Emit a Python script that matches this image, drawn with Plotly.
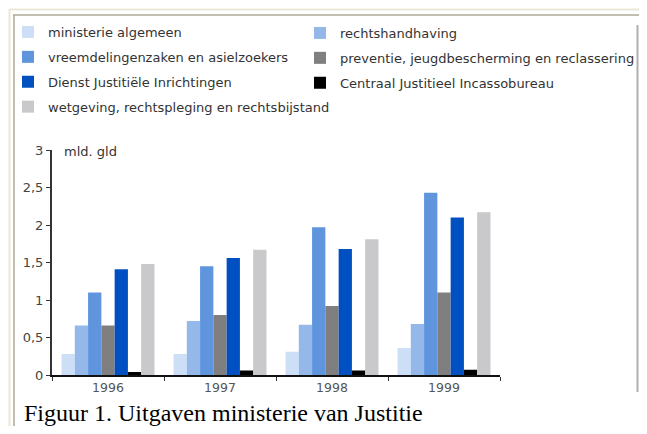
import plotly.graph_objects as go

years = ["1996", "1997", "1998", "1999"]
series_names = [
    "ministerie algemeen",
    "rechtshandhaving",
    "vreemdelingenzaken en asielzoekers",
    "preventie, jeugdbescherming en reclassering",
    "Dienst Justitiële Inrichtingen",
    "Centraal Justitieel Incassobureau",
    "wetgeving, rechtspleging en rechtsbijstand",
]
ministerie_algemeen = [0.28, 0.28, 0.31, 0.36]
rechtshandhaving = [0.66, 0.72, 0.67, 0.68]
vreemdelingenzaken = [1.10, 1.45, 1.97, 2.43]
preventie = [0.66, 0.80, 0.92, 1.10]
dji = [1.41, 1.56, 1.68, 2.10]
cjib = [0.04, 0.06, 0.06, 0.07]
wetgeving = [1.48, 1.67, 1.81, 2.17]
series_values = [ministerie_algemeen, rechtshandhaving, vreemdelingenzaken,
                 preventie, dji, cjib, wetgeving]
colors = ["#cddff7", "#94b8ea", "#5e95dc", "#7f7f7f", "#0050c2", "#000000", "#c9c9cb"]
legend_col = ["legend", "legend2", "legend", "legend2", "legend", "legend2", "legend"]
y_ticks = [0, 0.5, 1, 1.5, 2, 2.5, 3]

# page has an 8px body margin; keep the figure inside the window (no scrollbars)
OFF = 8
W, H = 647 - 2 * OFF, 434 - 2 * OFF
L, R, T, B = 52, 500, 150, 375  # plot area in window pixels

def px(x):
    return (x - L) / (R - L)

def py(y):
    return (B - y) / (B - T)

fig = go.Figure()
for i, (name, vals, col) in enumerate(zip(series_names, series_values, colors)):
    fig.add_trace(go.Bar(
        x=years, y=vals, name=name, marker=dict(color=col, line=dict(width=0)),
        legend=legend_col[i], legendgroup=name,
    ))

legend_font = dict(family="DejaVu Sans", size=13, color="#333333")
fig.update_layout(
    width=W, height=H,
    margin=dict(l=L - OFF, r=(W + OFF) - R, t=T - OFF, b=(H + OFF) - B, autoexpand=False),
    paper_bgcolor="white", plot_bgcolor="white",
    barmode="group", bargap=0.17, bargroupgap=0,
    separators=",.",
    showlegend=True,
    legend=dict(x=px(8), y=py(17), xanchor="left", yanchor="top", font=legend_font,
                bgcolor="rgba(0,0,0,0)", traceorder="grouped", tracegroupgap=5),
    legend2=dict(x=px(300), y=py(18), xanchor="left", yanchor="top", font=legend_font,
                 bgcolor="rgba(0,0,0,0)", traceorder="grouped", tracegroupgap=5),
    xaxis=dict(type="category", showline=True, linecolor="#111111", linewidth=2,
               ticks="outside", tickson="boundaries", ticklen=4, tickcolor="#333333",
               tickfont=dict(family="DejaVu Sans", size=12.5, color="#555555"),
               showgrid=False, zeroline=False),
    yaxis=dict(range=[0, 3], tickvals=y_ticks, showline=True, linecolor="#333333",
               linewidth=2, ticks="outside", ticklen=4, tickcolor="#333333",
               tickfont=dict(family="DejaVu Sans", size=13, color="#444444"),
               showgrid=False, zeroline=False),
)

fig.add_annotation(text="mld. gld", xref="paper", yref="paper", x=px(62), y=py(151),
                   xanchor="left", yanchor="middle", showarrow=False,
                   font=dict(family="DejaVu Sans", size=13, color="#333333"))
fig.add_annotation(text="Figuur 1. Uitgaven ministerie van Justitie", xref="paper", yref="paper",
                   x=px(22), y=py(413), xanchor="left", yanchor="middle", showarrow=False,
                   font=dict(family="Liberation Serif", size=24, color="#000000"))

# frame lines
def line(x0, y0, x1, y1, color, width):
    fig.add_shape(type="line", xref="paper", yref="paper",
                  x0=px(x0), y0=py(y0), x1=px(x1), y1=py(y1),
                  line=dict(color=color, width=width), layer="below")

line(9, 9.5, 647, 9.5, "#ebe7d6", 2)
line(9.5, 9, 9.5, 434, "#ebe7d6", 2)
line(13, 15, 647, 15, "#aca899", 1.5)
line(14, 15, 14, 434, "#aca899", 1.5)
line(637.5, 25, 637.5, 392, "#b0b0b0", 2)

fig.write_html("out.html")
